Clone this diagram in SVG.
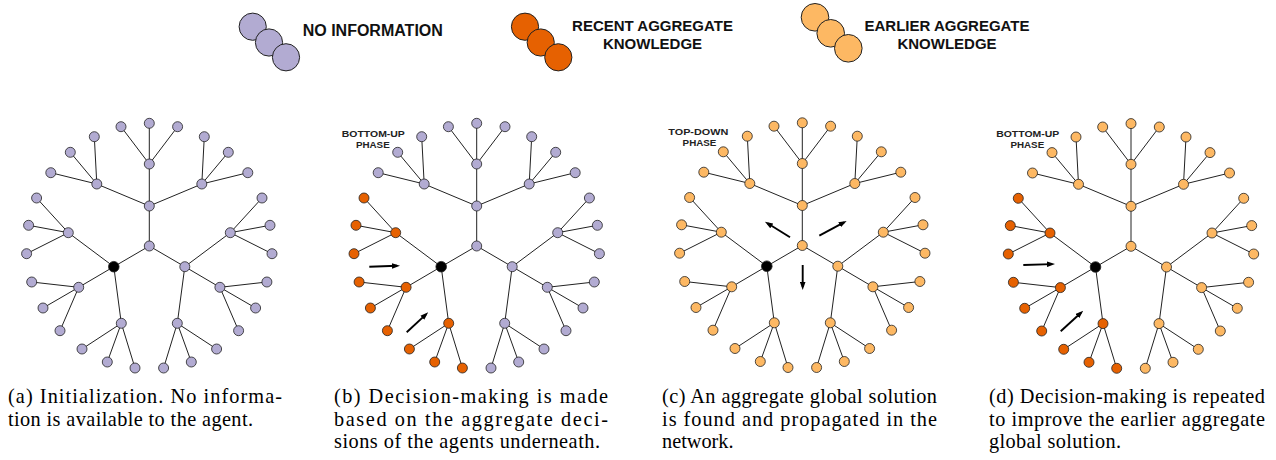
<svg xmlns="http://www.w3.org/2000/svg" xmlns:xlink="http://www.w3.org/1999/xlink" width="1276" height="460" viewBox="0 0 1276 460">
<style>
.edge{fill:none;stroke:#222;stroke-width:1}
.n{stroke:#222;stroke-width:0.8}
.lav{fill:#b2abd2}
.org{fill:#e66101}
.lt{fill:#fdb863}
.blk{fill:#000}
.arr{fill:none;stroke:#000;stroke-width:1.9;marker-end:url(#ah)}
.leg{font-family:"Liberation Sans",Arial,sans-serif;font-weight:bold;font-size:15px;fill:#111}
.ph{font-family:"Liberation Sans",Arial,sans-serif;font-weight:bold;font-size:9.8px;fill:#222;text-anchor:middle}
.cap{font-family:"Liberation Serif","Times New Roman",serif;font-size:20.3px;fill:#000}
.lc{stroke:#222;stroke-width:1}
</style>
<defs>
<marker id="ah" markerUnits="userSpaceOnUse" markerWidth="8" markerHeight="6" refX="5" refY="3" orient="auto">
<path d="M0,0.2 L8,3 L0,5.8 z" fill="#000"/>
</marker>
<path id="edges" d="M0,0 L0,-40 L0,-82 M0,-82 L-28.3,-119.3 M0,-82 L0,-122.7 M0,-82 L28.3,-119.3 M0,-40 L-52.5,-62 M-52.5,-62 L-55,-109.3 M-52.5,-62 L-79,-93.7 M-52.5,-62 L-98.5,-73.3 M0,-40 L52.5,-62 M52.5,-62 L55,-109.3 M52.5,-62 L79,-93.7 M52.5,-62 L98.5,-73.3 M0,0 L-35.5,20.7 M0,0 L35.5,20.7 M-35.5,20.7 L-81,-13.3 M-81,-13.3 L-112.7,-48 M-81,-13.3 L-120.7,-20.7 M-81,-13.3 L-122.7,7.7 M-35.5,20.7 L-70.6,41.3 M-70.6,41.3 L-117.6,36 M-70.6,41.3 L-106.3,62 M-70.6,41.3 L-89.3,84.7 M-35.5,20.7 L-28,77.3 M-28,77.3 L-67.3,103 M-28,77.3 L-42,116 M-28,77.3 L-14.3,122 M35.5,20.7 L81,-13.3 M81,-13.3 L112.7,-48 M81,-13.3 L120.7,-20.7 M81,-13.3 L122.7,7.7 M35.5,20.7 L70.6,41.3 M70.6,41.3 L117.6,36 M70.6,41.3 L106.3,62 M70.6,41.3 L89.3,84.7 M35.5,20.7 L28,77.3 M28,77.3 L67.3,103 M28,77.3 L42,116 M28,77.3 L14.3,122"/>
</defs>
<rect width="1276" height="460" fill="#fff"/>

<g id="legend">
<g id="legend-none">
<circle class="lc lav" cx="252.7" cy="26.7" r="13.6"/>
<circle class="lc lav" cx="269" cy="42.5" r="13.6"/>
<circle class="lc lav" cx="286" cy="57.3" r="13.6"/>
<text class="leg" x="302.7" y="36" style="font-size:16px">NO INFORMATION</text>
</g>
<g id="legend-recent">
<circle class="lc org" cx="525" cy="26.7" r="13.6"/>
<circle class="lc org" cx="540.7" cy="42.5" r="13.6"/>
<circle class="lc org" cx="558.3" cy="57.3" r="13.6"/>
<text class="leg" x="652.5" y="30.7" text-anchor="middle">RECENT AGGREGATE</text>
<text class="leg" x="652.5" y="49.3" text-anchor="middle">KNOWLEDGE</text>
</g>
<g id="legend-earlier">
<circle class="lc lt" cx="815" cy="17.3" r="13.8"/>
<circle class="lc lt" cx="830.7" cy="33.3" r="13.8"/>
<circle class="lc lt" cx="848.3" cy="48.3" r="13.8"/>
<text class="leg" x="947" y="30.7" text-anchor="middle">EARLIER AGGREGATE</text>
<text class="leg" x="947" y="48.5" text-anchor="middle">KNOWLEDGE</text>
</g>
</g>

<!-- Panel A -->
<g id="panel-a" transform="translate(149.3,246)">
<g id="a-connectors"><use href="#edges" class="edge"/></g>
<g id="a-nodes" class="n">
<circle id="a-C" class="lav" cx="0" cy="0" r="5"/>
<circle id="a-U" class="lav" cx="0" cy="-40" r="5"/>
<circle id="a-T" class="lav" cx="0" cy="-82" r="5"/>
<circle id="a-T1" class="lav" cx="-28.3" cy="-119.3" r="5"/>
<circle id="a-T2" class="lav" cx="0" cy="-122.7" r="5"/>
<circle id="a-T3" class="lav" cx="28.3" cy="-119.3" r="5"/>
<circle id="a-UL" class="lav" cx="-52.5" cy="-62" r="5"/>
<circle id="a-UL1" class="lav" cx="-55" cy="-109.3" r="5"/>
<circle id="a-UL2" class="lav" cx="-79" cy="-93.7" r="5"/>
<circle id="a-UL3" class="lav" cx="-98.5" cy="-73.3" r="5"/>
<circle id="a-UR" class="lav" cx="52.5" cy="-62" r="5"/>
<circle id="a-UR1" class="lav" cx="55" cy="-109.3" r="5"/>
<circle id="a-UR2" class="lav" cx="79" cy="-93.7" r="5"/>
<circle id="a-UR3" class="lav" cx="98.5" cy="-73.3" r="5"/>
<circle id="a-L" class="blk" cx="-35.5" cy="20.7" r="5.3"/>
<circle id="a-LU" class="lav" cx="-81" cy="-13.3" r="5"/>
<circle id="a-LU1" class="lav" cx="-112.7" cy="-48" r="5"/>
<circle id="a-LU2" class="lav" cx="-120.7" cy="-20.7" r="5"/>
<circle id="a-LU3" class="lav" cx="-122.7" cy="7.7" r="5"/>
<circle id="a-LL" class="lav" cx="-70.6" cy="41.3" r="5"/>
<circle id="a-LL1" class="lav" cx="-117.6" cy="36" r="5"/>
<circle id="a-LL2" class="lav" cx="-106.3" cy="62" r="5"/>
<circle id="a-LL3" class="lav" cx="-89.3" cy="84.7" r="5"/>
<circle id="a-LB" class="lav" cx="-28" cy="77.3" r="5"/>
<circle id="a-LB1" class="lav" cx="-67.3" cy="103" r="5"/>
<circle id="a-LB2" class="lav" cx="-42" cy="116" r="5"/>
<circle id="a-LB3" class="lav" cx="-14.3" cy="122" r="5"/>
<circle id="a-R" class="lav" cx="35.5" cy="20.7" r="5"/>
<circle id="a-RU" class="lav" cx="81" cy="-13.3" r="5"/>
<circle id="a-RU1" class="lav" cx="112.7" cy="-48" r="5"/>
<circle id="a-RU2" class="lav" cx="120.7" cy="-20.7" r="5"/>
<circle id="a-RU3" class="lav" cx="122.7" cy="7.7" r="5"/>
<circle id="a-RL" class="lav" cx="70.6" cy="41.3" r="5"/>
<circle id="a-RL1" class="lav" cx="117.6" cy="36" r="5"/>
<circle id="a-RL2" class="lav" cx="106.3" cy="62" r="5"/>
<circle id="a-RL3" class="lav" cx="89.3" cy="84.7" r="5"/>
<circle id="a-RB" class="lav" cx="28" cy="77.3" r="5"/>
<circle id="a-RB1" class="lav" cx="67.3" cy="103" r="5"/>
<circle id="a-RB2" class="lav" cx="42" cy="116" r="5"/>
<circle id="a-RB3" class="lav" cx="14.3" cy="122" r="5"/>
</g>
</g>

<!-- Panel B -->
<g id="panel-b" transform="translate(476.7,246)">
<g id="b-connectors"><use href="#edges" class="edge"/></g>
<g id="b-nodes" class="n">
<circle id="b-C" class="lav" cx="0" cy="0" r="5"/>
<circle id="b-U" class="lav" cx="0" cy="-40" r="5"/>
<circle id="b-T" class="lav" cx="0" cy="-82" r="5"/>
<circle id="b-T1" class="lav" cx="-28.3" cy="-119.3" r="5"/>
<circle id="b-T2" class="lav" cx="0" cy="-122.7" r="5"/>
<circle id="b-T3" class="lav" cx="28.3" cy="-119.3" r="5"/>
<circle id="b-UL" class="lav" cx="-52.5" cy="-62" r="5"/>
<circle id="b-UL1" class="lav" cx="-55" cy="-109.3" r="5"/>
<circle id="b-UL2" class="lav" cx="-79" cy="-93.7" r="5"/>
<circle id="b-UL3" class="lav" cx="-98.5" cy="-73.3" r="5"/>
<circle id="b-UR" class="lav" cx="52.5" cy="-62" r="5"/>
<circle id="b-UR1" class="lav" cx="55" cy="-109.3" r="5"/>
<circle id="b-UR2" class="lav" cx="79" cy="-93.7" r="5"/>
<circle id="b-UR3" class="lav" cx="98.5" cy="-73.3" r="5"/>
<circle id="b-L" class="blk" cx="-35.5" cy="20.7" r="5.3"/>
<circle id="b-LU" class="org" cx="-81" cy="-13.3" r="5"/>
<circle id="b-LU1" class="org" cx="-112.7" cy="-48" r="5"/>
<circle id="b-LU2" class="org" cx="-120.7" cy="-20.7" r="5"/>
<circle id="b-LU3" class="org" cx="-122.7" cy="7.7" r="5"/>
<circle id="b-LL" class="org" cx="-70.6" cy="41.3" r="5"/>
<circle id="b-LL1" class="org" cx="-117.6" cy="36" r="5"/>
<circle id="b-LL2" class="org" cx="-106.3" cy="62" r="5"/>
<circle id="b-LL3" class="org" cx="-89.3" cy="84.7" r="5"/>
<circle id="b-LB" class="org" cx="-28" cy="77.3" r="5"/>
<circle id="b-LB1" class="org" cx="-67.3" cy="103" r="5"/>
<circle id="b-LB2" class="org" cx="-42" cy="116" r="5"/>
<circle id="b-LB3" class="org" cx="-14.3" cy="122" r="5"/>
<circle id="b-R" class="lav" cx="35.5" cy="20.7" r="5"/>
<circle id="b-RU" class="lav" cx="81" cy="-13.3" r="5"/>
<circle id="b-RU1" class="lav" cx="112.7" cy="-48" r="5"/>
<circle id="b-RU2" class="lav" cx="120.7" cy="-20.7" r="5"/>
<circle id="b-RU3" class="lav" cx="122.7" cy="7.7" r="5"/>
<circle id="b-RL" class="lav" cx="70.6" cy="41.3" r="5"/>
<circle id="b-RL1" class="lav" cx="117.6" cy="36" r="5"/>
<circle id="b-RL2" class="lav" cx="106.3" cy="62" r="5"/>
<circle id="b-RL3" class="lav" cx="89.3" cy="84.7" r="5"/>
<circle id="b-RB" class="lav" cx="28" cy="77.3" r="5"/>
<circle id="b-RB1" class="lav" cx="67.3" cy="103" r="5"/>
<circle id="b-RB2" class="lav" cx="42" cy="116" r="5"/>
<circle id="b-RB3" class="lav" cx="14.3" cy="122" r="5"/>
</g>
</g>

<!-- Panel C -->
<g id="panel-c" transform="translate(802.3,245.5)">
<g id="c-connectors"><use href="#edges" class="edge"/></g>
<g id="c-nodes" class="n">
<circle id="c-C" class="lt" cx="0" cy="0" r="5"/>
<circle id="c-U" class="lt" cx="0" cy="-40" r="5"/>
<circle id="c-T" class="lt" cx="0" cy="-82" r="5"/>
<circle id="c-T1" class="lt" cx="-28.3" cy="-119.3" r="5"/>
<circle id="c-T2" class="lt" cx="0" cy="-122.7" r="5"/>
<circle id="c-T3" class="lt" cx="28.3" cy="-119.3" r="5"/>
<circle id="c-UL" class="lt" cx="-52.5" cy="-62" r="5"/>
<circle id="c-UL1" class="lt" cx="-55" cy="-109.3" r="5"/>
<circle id="c-UL2" class="lt" cx="-79" cy="-93.7" r="5"/>
<circle id="c-UL3" class="lt" cx="-98.5" cy="-73.3" r="5"/>
<circle id="c-UR" class="lt" cx="52.5" cy="-62" r="5"/>
<circle id="c-UR1" class="lt" cx="55" cy="-109.3" r="5"/>
<circle id="c-UR2" class="lt" cx="79" cy="-93.7" r="5"/>
<circle id="c-UR3" class="lt" cx="98.5" cy="-73.3" r="5"/>
<circle id="c-L" class="blk" cx="-35.5" cy="20.7" r="5.3"/>
<circle id="c-LU" class="lt" cx="-81" cy="-13.3" r="5"/>
<circle id="c-LU1" class="lt" cx="-112.7" cy="-48" r="5"/>
<circle id="c-LU2" class="lt" cx="-120.7" cy="-20.7" r="5"/>
<circle id="c-LU3" class="lt" cx="-122.7" cy="7.7" r="5"/>
<circle id="c-LL" class="lt" cx="-70.6" cy="41.3" r="5"/>
<circle id="c-LL1" class="lt" cx="-117.6" cy="36" r="5"/>
<circle id="c-LL2" class="lt" cx="-106.3" cy="62" r="5"/>
<circle id="c-LL3" class="lt" cx="-89.3" cy="84.7" r="5"/>
<circle id="c-LB" class="lt" cx="-28" cy="77.3" r="5"/>
<circle id="c-LB1" class="lt" cx="-67.3" cy="103" r="5"/>
<circle id="c-LB2" class="lt" cx="-42" cy="116" r="5"/>
<circle id="c-LB3" class="lt" cx="-14.3" cy="122" r="5"/>
<circle id="c-R" class="lt" cx="35.5" cy="20.7" r="5"/>
<circle id="c-RU" class="lt" cx="81" cy="-13.3" r="5"/>
<circle id="c-RU1" class="lt" cx="112.7" cy="-48" r="5"/>
<circle id="c-RU2" class="lt" cx="120.7" cy="-20.7" r="5"/>
<circle id="c-RU3" class="lt" cx="122.7" cy="7.7" r="5"/>
<circle id="c-RL" class="lt" cx="70.6" cy="41.3" r="5"/>
<circle id="c-RL1" class="lt" cx="117.6" cy="36" r="5"/>
<circle id="c-RL2" class="lt" cx="106.3" cy="62" r="5"/>
<circle id="c-RL3" class="lt" cx="89.3" cy="84.7" r="5"/>
<circle id="c-RB" class="lt" cx="28" cy="77.3" r="5"/>
<circle id="c-RB1" class="lt" cx="67.3" cy="103" r="5"/>
<circle id="c-RB2" class="lt" cx="42" cy="116" r="5"/>
<circle id="c-RB3" class="lt" cx="14.3" cy="122" r="5"/>
</g>
</g>

<!-- Panel D -->
<g id="panel-d" transform="translate(1131,246.3)">
<g id="d-connectors"><use href="#edges" class="edge"/></g>
<g id="d-nodes" class="n">
<circle id="d-C" class="lt" cx="0" cy="0" r="5"/>
<circle id="d-U" class="lt" cx="0" cy="-40" r="5"/>
<circle id="d-T" class="lt" cx="0" cy="-82" r="5"/>
<circle id="d-T1" class="lt" cx="-28.3" cy="-119.3" r="5"/>
<circle id="d-T2" class="lt" cx="0" cy="-122.7" r="5"/>
<circle id="d-T3" class="lt" cx="28.3" cy="-119.3" r="5"/>
<circle id="d-UL" class="lt" cx="-52.5" cy="-62" r="5"/>
<circle id="d-UL1" class="lt" cx="-55" cy="-109.3" r="5"/>
<circle id="d-UL2" class="lt" cx="-79" cy="-93.7" r="5"/>
<circle id="d-UL3" class="lt" cx="-98.5" cy="-73.3" r="5"/>
<circle id="d-UR" class="lt" cx="52.5" cy="-62" r="5"/>
<circle id="d-UR1" class="lt" cx="55" cy="-109.3" r="5"/>
<circle id="d-UR2" class="lt" cx="79" cy="-93.7" r="5"/>
<circle id="d-UR3" class="lt" cx="98.5" cy="-73.3" r="5"/>
<circle id="d-L" class="blk" cx="-35.5" cy="20.7" r="5.3"/>
<circle id="d-LU" class="org" cx="-81" cy="-13.3" r="5"/>
<circle id="d-LU1" class="org" cx="-112.7" cy="-48" r="5"/>
<circle id="d-LU2" class="org" cx="-120.7" cy="-20.7" r="5"/>
<circle id="d-LU3" class="org" cx="-122.7" cy="7.7" r="5"/>
<circle id="d-LL" class="org" cx="-70.6" cy="41.3" r="5"/>
<circle id="d-LL1" class="org" cx="-117.6" cy="36" r="5"/>
<circle id="d-LL2" class="org" cx="-106.3" cy="62" r="5"/>
<circle id="d-LL3" class="org" cx="-89.3" cy="84.7" r="5"/>
<circle id="d-LB" class="org" cx="-28" cy="77.3" r="5"/>
<circle id="d-LB1" class="org" cx="-67.3" cy="103" r="5"/>
<circle id="d-LB2" class="org" cx="-42" cy="116" r="5"/>
<circle id="d-LB3" class="org" cx="-14.3" cy="122" r="5"/>
<circle id="d-R" class="lt" cx="35.5" cy="20.7" r="5"/>
<circle id="d-RU" class="lt" cx="81" cy="-13.3" r="5"/>
<circle id="d-RU1" class="lt" cx="112.7" cy="-48" r="5"/>
<circle id="d-RU2" class="lt" cx="120.7" cy="-20.7" r="5"/>
<circle id="d-RU3" class="lt" cx="122.7" cy="7.7" r="5"/>
<circle id="d-RL" class="lt" cx="70.6" cy="41.3" r="5"/>
<circle id="d-RL1" class="lt" cx="117.6" cy="36" r="5"/>
<circle id="d-RL2" class="lt" cx="106.3" cy="62" r="5"/>
<circle id="d-RL3" class="lt" cx="89.3" cy="84.7" r="5"/>
<circle id="d-RB" class="lt" cx="28" cy="77.3" r="5"/>
<circle id="d-RB1" class="lt" cx="67.3" cy="103" r="5"/>
<circle id="d-RB2" class="lt" cx="42" cy="116" r="5"/>
<circle id="d-RB3" class="lt" cx="14.3" cy="122" r="5"/>
</g>
</g>

<g id="phase-arrows">
<line class="arr" x1="369.3" y1="266.7" x2="397" y2="265.8"/>
<line class="arr" x1="406.7" y1="332.3" x2="426" y2="314.4"/>
<line class="arr" x1="790" y1="237.3" x2="767.5" y2="223.3"/>
<line class="arr" x1="819.3" y1="235.7" x2="844" y2="222.4"/>
<line class="arr" x1="802.7" y1="265" x2="802.7" y2="287"/>
<line class="arr" x1="1023.3" y1="265" x2="1052" y2="264.1"/>
<line class="arr" x1="1060.7" y1="331.3" x2="1081" y2="312.8"/>
</g>

<g id="phase-labels">
<text class="ph" x="373.3" y="136.7" textLength="63" lengthAdjust="spacingAndGlyphs">BOTTOM-UP</text>
<text class="ph" x="372.8" y="147.7">PHASE</text>
<text class="ph" x="698.3" y="135" textLength="60" lengthAdjust="spacingAndGlyphs">TOP-DOWN</text>
<text class="ph" x="699.5" y="146">PHASE</text>
<text class="ph" x="1027.7" y="136.7" textLength="63" lengthAdjust="spacingAndGlyphs">BOTTOM-UP</text>
<text class="ph" x="1027.3" y="147.7">PHASE</text>
</g>

<g id="captions">
<text class="cap" x="8" y="403" textLength="274" lengthAdjust="spacing">(a) Initialization. No informa-</text>
<text class="cap" x="8" y="425.5" textLength="245" lengthAdjust="spacing">tion is available to the agent.</text>
<text class="cap" x="334" y="403" textLength="274" lengthAdjust="spacing">(b) Decision-making is made</text>
<text class="cap" x="334" y="425.5" textLength="274" lengthAdjust="spacing">based on the aggregate deci-</text>
<text class="cap" x="334" y="448" textLength="266" lengthAdjust="spacing">sions of the agents underneath.</text>
<text class="cap" x="662" y="403" textLength="275" lengthAdjust="spacing">(c) An aggregate global solution</text>
<text class="cap" x="662" y="425.5" textLength="275" lengthAdjust="spacing">is found and propagated in the</text>
<text class="cap" x="662" y="448">network.</text>
<text class="cap" x="989" y="403" textLength="276" lengthAdjust="spacing">(d) Decision-making is repeated</text>
<text class="cap" x="989" y="425.5" textLength="276" lengthAdjust="spacing">to improve the earlier aggregate</text>
<text class="cap" x="989" y="448" textLength="132" lengthAdjust="spacing">global solution.</text>
</g>
</svg>
